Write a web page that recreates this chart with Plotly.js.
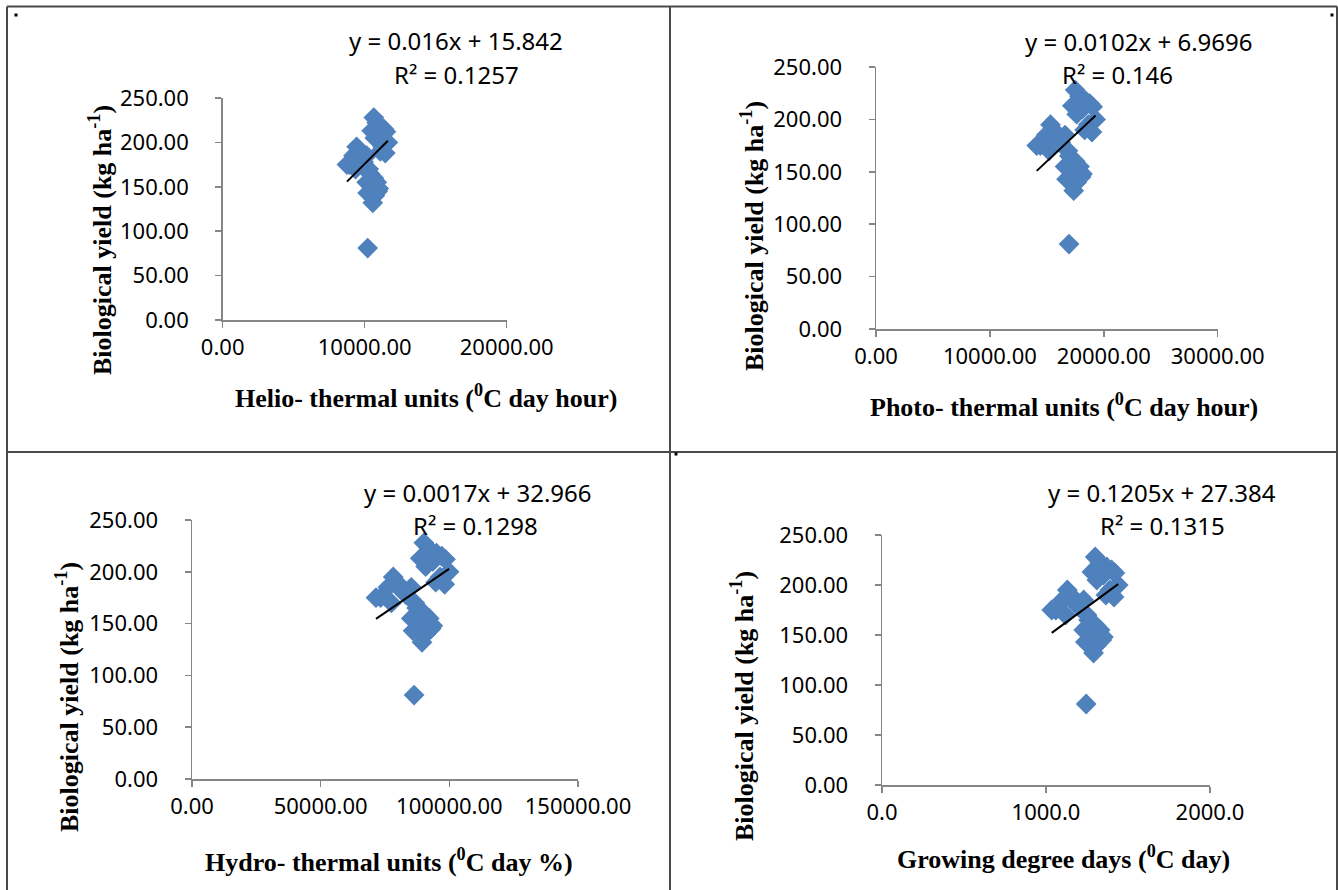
<!DOCTYPE html>
<html><head><meta charset="utf-8">
<script src="https://cdn.plot.ly/plotly-3.0.1.min.js"></script>
<style>html,body{margin:0;padding:0;background:#fff}#chart{width:1338px;height:890px}</style>
</head><body><div id="chart"></div>
<script>
// Biological yield (kg ha-1), shared by all four panels
const yieldVals = [228, 222, 218, 215, 212, 210, 213, 205, 200, 195, 188, 190,
                   195, 190, 185, 183, 175, 175, 170, 178, 185, 170,
                   165, 160, 155, 155, 150, 148, 143, 140, 145, 132, 81];
// Helio-thermal units (degC day hour)
const htu = [10640, 10850, 11140, 11350, 11490, 10990, 10490, 10710, 11630, 11280, 11450, 11100,
             9430, 9570, 9210, 9710, 8930, 8750, 9360, 9920, 10140, 10280,
             10350, 10640, 10140, 10850, 10490, 10990, 10210, 10710, 10920, 10570, 10210];
// Photo-thermal units (degC day hour)
const ptu = [17490, 17870, 18390, 18770, 19020, 18130, 17240, 17620, 19280, 18640, 18960, 18320,
             15320, 15580, 14940, 15830, 14430, 14110, 15200, 16220, 16600, 16850,
             16980, 17490, 16600, 17870, 17240, 18130, 16730, 17620, 18000, 17360, 16950];
// Hydro-thermal units (degC day %)
const hytu = [90100, 92200, 95000, 97100, 98500, 93600, 88700, 90800, 99900, 96400, 98200, 94700,
              78200, 79600, 76100, 81000, 73300, 71500, 77500, 83100, 85200, 86600,
              87300, 90100, 85200, 92200, 88700, 93600, 85900, 90800, 92900, 89400, 86300];
// Growing degree days (degC day)
const gdd = [1300, 1330, 1370, 1400, 1420, 1350, 1280, 1310, 1440, 1390, 1415, 1365,
             1130, 1150, 1100, 1170, 1060, 1035, 1120, 1200, 1230, 1250,
             1260, 1300, 1230, 1330, 1280, 1350, 1240, 1310, 1340, 1290, 1245];

const slopes = [0.016, 0.0102, 0.0017, 0.1205];
const intercepts = [15.842, 6.9696, 32.966, 27.384];
const eqLabels = ['y = 0.016x + 15.842', 'y = 0.0102x + 6.9696', 'y = 0.0017x + 32.966', 'y = 0.1205x + 27.384'];
const r2Labels = ['R² = 0.1257', 'R² = 0.146', 'R² = 0.1298', 'R² = 0.1315'];
const xTitles = ['Helio- thermal units (<sup>0</sup>C day hour)', 'Photo- thermal units (<sup>0</sup>C day hour)',
                 'Hydro- thermal units (<sup>0</sup>C day %)', 'Growing degree days (<sup>0</sup>C day)'];
const yTitle = 'Biological yield (kg ha<sup>-1</sup>)';
const xMax = [20000, 30000, 150000, 2000];
const xDtick = [10000, 10000, 50000, 1000];
const xFormat = ['.2f', '.2f', '.2f', '.1f'];
const xSeries = [htu, ptu, hytu, gdd];

const W = 1338, H = 890;
const px = v => v / W, py = v => 1 - v / H;
// plot areas in pixels: [left, right, bottom, top]
const boxes = [[222.7, 506.7, 320, 98], [876, 1217.7, 329, 67], [192, 578, 779, 520], [882, 1210, 785, 535]];
const eqPos = [[456, 40, 456, 74], [1139, 42, 1117, 74], [478, 492, 475, 525], [1162, 492, 1162, 525]];
const xTitlePos = [[426, 397], [1064, 405], [389, 860], [1063, 857]];
const yTitlePos = [[100, 240], [752, 236], [67, 697], [742, 706]];

const blue = '#4F81BD';
const data = [];
const layout = {width: W, height: H, margin: {l: 0, r: 0, t: 0, b: 0}, paper_bgcolor: '#fff', plot_bgcolor: '#fff',
  showlegend: false, annotations: [], shapes: []};
const tickFont = {family: 'Noto Sans', size: 22, color: '#000'};
const eqFont = {family: 'Noto Sans', size: 24, color: '#000'};
const titleFont = {family: 'Liberation Serif', size: 26, color: '#000', weight: 'bold'};

for (let i = 0; i < 4; i++) {
  const sfx = i === 0 ? '' : String(i + 1);
  const xs = xSeries[i];
  data.push({type: 'scatter', mode: 'markers', x: xs, y: yieldVals, xaxis: 'x' + sfx, yaxis: 'y' + sfx,
    marker: {symbol: 'diamond', size: 16, color: blue, line: {width: 0}}, hoverinfo: 'x+y'});
  const xmin = Math.min(...xs), xmax = Math.max(...xs);
  data.push({type: 'scatter', mode: 'lines', x: [xmin, xmax],
    y: [intercepts[i] + slopes[i] * xmin, intercepts[i] + slopes[i] * xmax], xaxis: 'x' + sfx, yaxis: 'y' + sfx,
    line: {color: '#000', width: 2}, hoverinfo: 'skip'});
  const b = boxes[i];
  layout['xaxis' + sfx] = {domain: [px(b[0]), px(b[1])], anchor: 'y' + sfx, range: [0, xMax[i]], dtick: xDtick[i], tick0: 0,
    tickformat: xFormat[i], showgrid: false, zeroline: false, showline: true, linecolor: '#868686', linewidth: 1.5,
    ticks: 'outside', ticklen: 6, tickwidth: 1.5, tickcolor: '#868686', tickfont: tickFont, ticklabelstandoff: 1, fixedrange: true};
  layout['yaxis' + sfx] = {domain: [py(b[2]), py(b[3])], anchor: 'x' + sfx, range: [0, 250], dtick: 50, tick0: 0,
    tickformat: '.2f', showgrid: false, zeroline: false, showline: true, linecolor: '#868686', linewidth: 1.5,
    ticks: 'outside', ticklen: 6, tickwidth: 1.5, tickcolor: '#868686', tickfont: tickFont, ticklabelstandoff: 22, fixedrange: true};
  const e = eqPos[i];
  layout.annotations.push({xref: 'paper', yref: 'paper', x: px(e[0]), y: py(e[1]), text: eqLabels[i], showarrow: false,
    xanchor: 'center', yanchor: 'middle', font: eqFont});
  layout.annotations.push({xref: 'paper', yref: 'paper', x: px(e[2]), y: py(e[3]), text: r2Labels[i], showarrow: false,
    xanchor: 'center', yanchor: 'middle', font: eqFont});
  const xt = xTitlePos[i];
  layout.annotations.push({xref: 'paper', yref: 'paper', x: px(xt[0]), y: py(xt[1]), text: xTitles[i], showarrow: false,
    xanchor: 'center', yanchor: 'middle', font: titleFont});
  const yt = yTitlePos[i];
  layout.annotations.push({xref: 'paper', yref: 'paper', x: px(yt[0]), y: py(yt[1]), text: yTitle, showarrow: false,
    textangle: -90, xanchor: 'center', yanchor: 'middle', font: titleFont});
}

// table borders
const border = {color: '#4a4a4a', width: 2};
const lines = [[7, 6.5, 1337, 6.5], [7, 6.5, 7, 890], [1337, 6.5, 1337, 890], [670, 6.5, 670, 890], [7, 452, 1337, 452]];
lines.forEach(l => layout.shapes.push({type: 'line', xref: 'paper', yref: 'paper', x0: px(l[0]), y0: py(l[1]),
  x1: px(l[2]), y1: py(l[3]), line: border}));
// small marks in the cell corners
[[16, 15], [1332, 15], [676, 454]].forEach(d => layout.shapes.push({type: 'rect', xref: 'paper', yref: 'paper',
  x0: px(d[0] - 1.5), x1: px(d[0] + 1.5), y0: py(d[1] - 1.5), y1: py(d[1] + 1.5), fillcolor: '#000', line: {width: 0}}));

Plotly.newPlot('chart', data, layout, {displayModeBar: false, staticPlot: true});
</script></body></html>
